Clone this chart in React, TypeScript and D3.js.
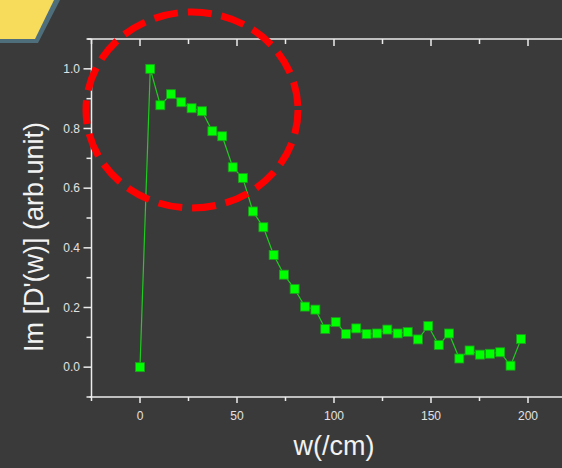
import React from "react";
import * as d3 from "d3";

// Frequency (/cm) and normalised imaginary response
const freq = [
  0, 5.3, 10.5, 16, 21.3, 26.6, 32, 37.3, 42.4, 47.8, 53, 58.2, 63.6, 68.9, 74.2,
  79.7, 85, 90.4, 95.5, 100.9, 106.2, 111.5, 116.8, 122.2, 127.5, 132.8, 138,
  143.3, 148.6, 154, 159.3, 164.6, 169.9, 175.3, 180.4, 185.7, 191, 196.4,
];
const response = [
  0, 1.0, 0.878, 0.915, 0.888, 0.868, 0.858, 0.791, 0.774, 0.67, 0.634, 0.522,
  0.469, 0.376, 0.31, 0.262, 0.203, 0.193, 0.128, 0.151, 0.111, 0.13, 0.111,
  0.113, 0.126, 0.113, 0.118, 0.093, 0.138, 0.074, 0.113, 0.029, 0.056, 0.042,
  0.045, 0.05, 0.005, 0.094,
];
const xMajorTicks = [0, 50, 100, 150, 200];
const xMinorTicks = [-25, 25, 75, 125, 175, 225];
const yMajorTicks = [0, 0.2, 0.4, 0.6, 0.8, 1.0];
const yMinorTicks = [-0.1, 0.1, 0.3, 0.5, 0.7, 0.9, 1.1];

const W = 562;
const H = 468;
const BG = "#3a3a3a";
const AXIS = "#ececec";
const FONT = "Liberation Sans, Arial, sans-serif";

export default function App() {
  const x = d3.scaleLinear().domain([-25, 225]).range([91.5, 576.5]);
  const y = d3.scaleLinear().domain([-0.1, 1.1]).range([397, 39]);
  const pts = freq.map((f, i) => [f, response[i]] as [number, number]);
  const line = d3
    .line<[number, number]>()
    .x((d) => x(d[0]))
    .y((d) => y(d[1]));

  const left = x(-25);
  const right = x(225);
  const top = y(1.1);
  const bottom = y(-0.1);
  const ms = 9;

  return (
    <svg
      width={W}
      height={H}
      style={{ position: "absolute", left: 0, top: 0, background: BG }}
    >
      <rect x={0} y={0} width={W} height={H} fill={BG} />

      {/* corner banner */}
      <polygon points="0,0 60,0 38,43 0,43" fill="#4f6e7c" />
      <polygon points="0,0 54,0 35,39 0,39" fill="#f7dc5c" />

      {/* frame: the plot runs past the right edge of the view */}
      <g stroke={AXIS} strokeWidth={1.5} fill="none">
        <line x1={left - 4} x2={right} y1={top} y2={top} />
        <line x1={left - 2} x2={right} y1={bottom} y2={bottom} />
        <line x1={left} x2={left} y1={top} y2={bottom} />
        {xMajorTicks.map((t) => (
          <g key={"xM" + t}>
            <line x1={x(t)} x2={x(t)} y1={bottom} y2={bottom + 6} />
            <line x1={x(t)} x2={x(t)} y1={top} y2={top + 7} />
          </g>
        ))}
        {xMinorTicks.map((t) => (
          <g key={"xm" + t}>
            <line x1={x(t)} x2={x(t)} y1={bottom} y2={bottom + 4} />
            <line x1={x(t)} x2={x(t)} y1={top} y2={top + 5} />
          </g>
        ))}
        {yMajorTicks.map((t) => (
          <line key={"yM" + t} x1={left - 8} x2={left} y1={y(t)} y2={y(t)} />
        ))}
        {yMinorTicks.map((t) => (
          <line key={"ym" + t} x1={left - 5} x2={left} y1={y(t)} y2={y(t)} />
        ))}
      </g>

      {/* tick labels */}
      <g fill="#e2e2e2" fontFamily={FONT} fontSize={12}>
        {xMajorTicks.map((t) => (
          <text key={"xl" + t} x={x(t)} y={420} textAnchor="middle">
            {t}
          </text>
        ))}
        {yMajorTicks.map((t) => (
          <text
            key={"yl" + t}
            x={80}
            y={y(t)}
            textAnchor="end"
            dominantBaseline="central"
          >
            {d3.format(".1f")(t)}
          </text>
        ))}
      </g>

      {/* axis titles */}
      <text
        x={334}
        y={455}
        textAnchor="middle"
        fill="#f2f2f2"
        fontFamily={FONT}
        fontSize={27}
      >
        w(/cm)
      </text>
      <text
        transform={`translate(43,237) rotate(-90)`}
        textAnchor="middle"
        fill="#f2f2f2"
        fontFamily={FONT}
        fontSize={27}
      >
        Im [D'(w)] (arb.unit)
      </text>

      {/* series */}
      <path d={line(pts) ?? ""} fill="none" stroke="#1fcc1f" strokeWidth={1.2} />
      {pts.map((d, i) => (
        <rect
          key={"p" + i}
          x={x(d[0]) - ms / 2}
          y={y(d[1]) - ms / 2}
          width={ms}
          height={ms}
          fill="#00ff00"
          stroke="#1c9e1c"
          strokeWidth={0.8}
        />
      ))}

      {/* highlight ring */}
      <ellipse
        cx={192}
        cy={110}
        rx={106}
        ry={98}
        fill="none"
        stroke="#ff0000"
        strokeWidth={7}
        strokeDasharray="24 10"
      />
    </svg>
  );
}
